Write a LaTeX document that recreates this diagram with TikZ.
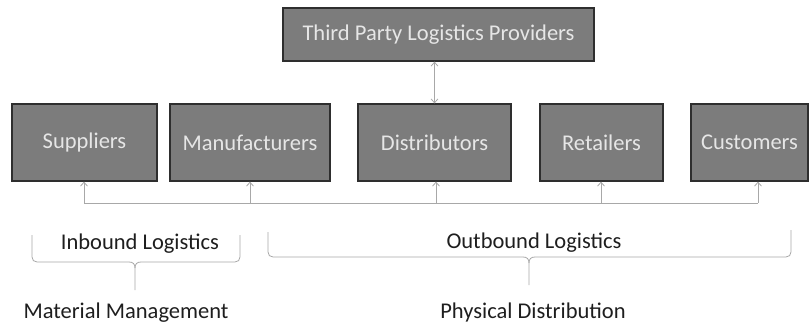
\documentclass[tikz,border=0pt]{standalone}
\usepackage{fontspec}
\setmainfont{Carlito}
\usetikzlibrary{arrows.meta}
\definecolor{boxfill}{HTML}{7C7C7C}
\definecolor{boxline}{HTML}{2E2E2E}
\definecolor{boxtext}{HTML}{E6E6E6}
\definecolor{conncol}{HTML}{A8A8A8}
\definecolor{labtext}{HTML}{1E1E1E}
\begin{document}
\begin{tikzpicture}[x=1pt,y=-1pt,
  box/.style={draw=boxline, line width=1.2pt, fill=boxfill, text=boxtext,
    font=\fontsize{22.5}{26}\selectfont, inner sep=0pt},
  conn/.style={draw=conncol, line width=0.8pt},
  uptip/.style={conn, -{Straight Barb[length=4pt,width=7pt]}},
  bothtip/.style={conn, {Straight Barb[length=4pt,width=7pt]}-{Straight Barb[length=4pt,width=7pt]}},
  brace/.style={draw=conncol, line width=0.8pt},
  lab/.style={text=labtext, font=\fontsize{22.5}{26}\selectfont, inner sep=0pt}]
\useasboundingbox (0,0) rectangle (809,327);

\node[box, minimum width=311pt, minimum height=53pt] (tp) at (438.5,34.5) {Third Party Logistics Providers};

\node[box, minimum width=145pt, minimum height=77pt] (su) at (84.5,142.5) {Suppliers};
\node[box, minimum width=160pt, minimum height=77pt] (ma) at (250,142.5) {Manufacturers};
\node[box, minimum width=153pt, minimum height=77pt] (di) at (434.5,142.5) {Distributors};
\node[box, minimum width=123pt, minimum height=77pt] (re) at (601.5,142.5) {Retailers};
\node[box, minimum width=117pt, minimum height=77pt] (cu) at (749.5,142.5) {Customers};

\draw[bothtip] (di.north |- tp.south) -- (di.north);

\coordinate (b1) at (84,203);
\coordinate (b2) at (250,203);
\coordinate (b3) at (436,203);
\coordinate (b4) at (601,203);
\coordinate (b5) at (758,203);
\draw[conn] (b1) -- (b5);
\foreach \c/\n in {b1/su, b2/ma, b3/di, b4/re, b5/cu}
  \draw[uptip] (\c) -- (\c |- \n.south);

\node[lab] (inb) at (140,244) {Inbound Logistics};
\node[lab] (outb) at (534,243) {Outbound Logistics};
\node[lab] (mat) at (126,313) {Material Management};
\node[lab] (phy) at (533,312) {Physical Distribution};

% inbound brace
\draw[brace] (32,235) -- (32,257) .. controls (32,260) and (34,262) .. (37,262) -- (129,262)
  .. controls (133,262) and (135,264) .. (135,268) -- (135,290);
\draw[brace] (240,235) -- (240,257) .. controls (240,260) and (238,262) .. (235,262) -- (141,262)
  .. controls (137,262) and (135,264) .. (135,268);
% outbound brace
\draw[brace] (268,232) -- (268,252) .. controls (268,255) and (270,257) .. (273,257) -- (523,257)
  .. controls (527,257) and (529,259) .. (529,263) -- (529,285);
\draw[brace] (791,230) -- (791,252) .. controls (791,255) and (789,257) .. (786,257) -- (535,257)
  .. controls (531,257) and (529,259) .. (529,263);
\end{tikzpicture}
\end{document}
